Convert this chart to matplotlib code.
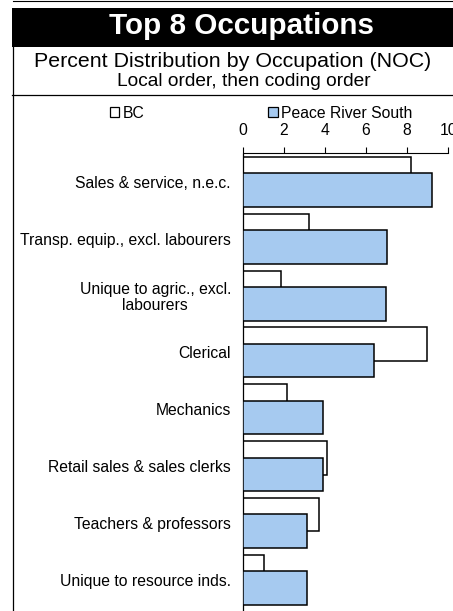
import matplotlib
matplotlib.use("Agg")
import matplotlib.pyplot as plt
from matplotlib.patches import Patch, Rectangle
from matplotlib.lines import Line2D
import numpy as np

plt.rcParams['font.family'] = ['Liberation Sans', 'DejaVu Sans']

# data (percent)
occupations = [
    "Sales & service, n.e.c.",
    "Transp. equip., excl. labourers",
    "Unique to agric., excl.\nlabourers",
    "Clerical",
    "Mechanics",
    "Retail sales & sales clerks",
    "Teachers & professors",
    "Unique to resource inds.",
]
bc = [8.19, 3.22, 1.88, 8.96, 2.17, 4.12, 3.71, 1.05]
peace_river = [9.19, 7.03, 6.97, 6.39, 3.92, 3.89, 3.11, 3.11]
xticks = [0, 2, 4, 6, 8, 10]

W, H = 453, 611
fig = plt.figure(figsize=(W / 100, H / 100), dpi=100)

def fx(px):
    return px / W

def fy(py):
    return 1 - py / H

# frame: top rule, black title band, left border, rule under subtitles
fig.add_artist(Line2D([fx(13), 1], [fy(0.8), fy(0.8)], color='black', lw=0.8))
fig.add_artist(Rectangle((fx(12), fy(47)), 1 - fx(12), fy(8) - fy(47),
                         facecolor='black', edgecolor='none'))
fig.add_artist(Line2D([fx(12.5), fx(12.5)], [fy(47), 0], color='black', lw=0.9))
fig.add_artist(Line2D([fx(12), 1], [fy(95), fy(95)], color='black', lw=0.9))

fig.text(fx(241.5), fy(34), "Top 8 Occupations", color='white', fontsize=21.3,
         fontweight='bold', ha='center', va='baseline')
fig.text(fx(233), fy(67), "Percent Distribution by Occupation (NOC)",
         fontsize=15.4, ha='center', va='baseline')
fig.text(fx(243.5), fy(86), "Local order, then coding order",
         fontsize=13.8, ha='center', va='baseline')

ax = fig.add_axes([fx(242.7), 0, fx(448.3) - fx(242.7), fy(153.5)])

y = np.arange(len(occupations))
h = 0.59
ax.barh(y - 0.145, bc, height=h, color='white', edgecolor='black', lw=1.1,
        label='BC', zorder=2)
ax.barh(y + 0.145, peace_river, height=h, color='#A6CAF0', edgecolor='black',
        lw=1.1, label='Peace River South', zorder=3)

ax.set_xlim(0, 10)
ax.set_ylim(7.55, -0.5)
ax.set_xticks(xticks)
ax.xaxis.tick_top()
ax.tick_params(axis='x', direction='out', length=4, width=0.8, pad=7.5,
               labelsize=11.3)
ax.set_yticks(y)
ax.set_yticklabels(occupations, fontsize=11.3, linespacing=1.1,
                   multialignment='center')
ax.tick_params(axis='y', length=0, pad=8.5)
for s in ['right', 'bottom']:
    ax.spines[s].set_visible(False)
ax.spines['top'].set_linewidth(0.8)
ax.spines['left'].set_linewidth(0.9)

handles = [Patch(facecolor='white', edgecolor='black', lw=0.9),
           Patch(facecolor='#A6CAF0', edgecolor='black', lw=0.9)]
fig.legend(handles, ['BC', 'Peace River South'], ncol=2, frameon=False,
           loc='center left', bbox_to_anchor=(fx(110), fy(113)),
           borderpad=0, borderaxespad=0, fontsize=11.3,
           handlelength=0.6, handleheight=0.6, handletextpad=0.2,
           columnspacing=7.9)

fig.savefig("out.png", dpi=100)
